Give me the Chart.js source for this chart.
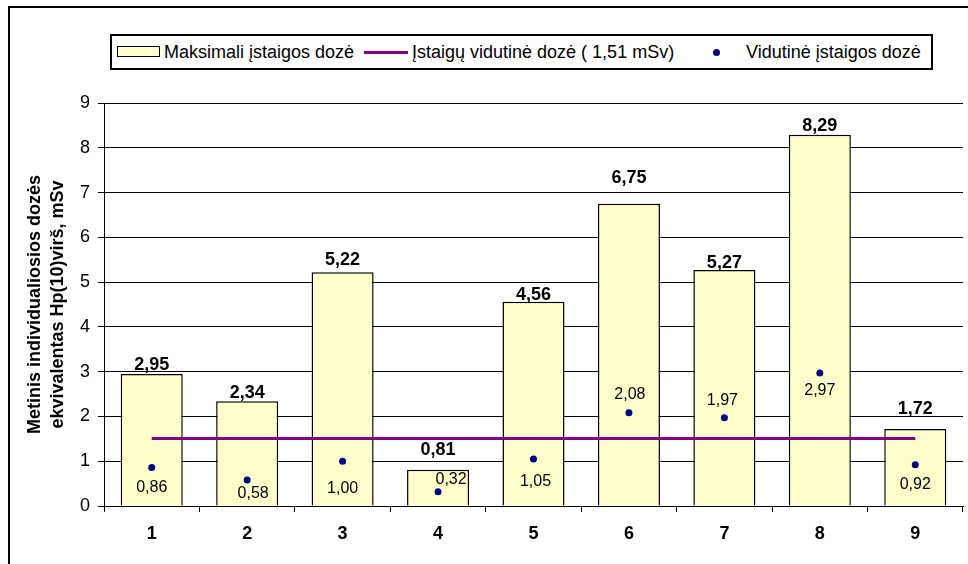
<!DOCTYPE html>
<html>
<head>
<meta charset="utf-8">
<script src="https://cdn.jsdelivr.net/npm/chart.js@4/dist/chart.umd.min.js"></script>
<style>
html,body{margin:0;padding:0;background:#fff;overflow:hidden;}
#wrap{position:relative;width:968px;height:564px;overflow:hidden;font-family:'Liberation Sans',Arial,sans-serif;}
#frame{position:absolute;left:8px;top:6px;width:2000px;height:2000px;border-left:2px solid #000;border-top:2px solid #000;}
canvas{position:absolute;left:0;top:0;}
#legendBox{position:absolute;left:110px;top:34px;width:823px;height:36px;box-sizing:border-box;border:2px solid #000;background:#fff;}
.lg{position:absolute;}
.lt{position:absolute;top:42px;line-height:20px;font-size:18px;color:#000;white-space:nowrap;}
</style>
</head>
<body>
<div id="wrap">
  <div id="frame"></div>
  <canvas id="c" width="968" height="564"></canvas>
  <div id="legendBox"></div>
  <div class="lg" style="left:117px;top:46px;width:43px;height:11px;box-sizing:border-box;border:1.5px solid #000;background:#FFFFCC;"></div>
  <div class="lt" id="lt1" style="left:164px;"></div>
  <div class="lg" style="left:364px;top:50.5px;width:44px;height:3px;background:#800080;"></div>
  <div class="lt" id="lt2" style="left:412px;"></div>
  <div class="lg" style="left:712.5px;top:48.5px;width:7px;height:7px;border-radius:50%;background:#000080;"></div>
  <div class="lt" id="lt3" style="left:746px;"></div>
</div>
<script>
// ---- data ----
const categories = ['1','2','3','4','5','6','7','8','9'];
const maxDose = [2.95, 2.34, 5.22, 0.81, 4.56, 6.75, 5.27, 8.29, 1.72];
const avgDose = [0.86, 0.58, 1.00, 0.32, 1.05, 2.08, 1.97, 2.97, 0.92];
const overallAvg = [1.51, 1.51, 1.51, 1.51, 1.51, 1.51, 1.51, 1.51, 1.51];
const yTicks = [0, 1, 2, 3, 4, 5, 6, 7, 8, 9];
const seriesNames = ['Maksimali įstaigos dozė', 'Įstaigų vidutinė dozė ( 1,51 mSv)', 'Vidutinė įstaigos dozė'];
const yTitle = ['Metinis individualiosios dozės', 'ekvivalentas Hp(10)virš, mSv'];

// ---- label placement (style) ----
const barLabelGap = [4, 3, 7, 15, 2, 21, 2, 4, 15];
const avgLabelShift = [[0,20],[6,14],[0,27],[13,-12],[2,23],[1,-18],[-2,-17],[0,18],[0,20]];

document.getElementById('lt1').textContent = seriesNames[0];
document.getElementById('lt2').textContent = seriesNames[1];
document.getElementById('lt3').textContent = seriesNames[2];

const FAM = "'Liberation Sans', Arial, sans-serif";
Chart.defaults.font.family = FAM;
Chart.defaults.color = '#000';

const fmt = v => v.toFixed(2).replace('.', ',');

const labelPlugin = {
  id: 'valueLabels',
  afterDatasetsDraw(chart) {
    const ctx = chart.ctx;
    ctx.save();
    ctx.fillStyle = '#000';
    const bars = chart.getDatasetMeta(0).data;
    ctx.font = 'bold 18px ' + FAM;
    ctx.textAlign = 'center';
    ctx.textBaseline = 'alphabetic';
    bars.forEach((el, i) => {
      ctx.fillText(fmt(maxDose[i]), el.x, el.y - barLabelGap[i]);
    });
    const pts = chart.getDatasetMeta(2).data;
    ctx.font = '16px ' + FAM;
    ctx.textBaseline = 'middle';
    pts.forEach((el, i) => {
      ctx.fillText(fmt(avgDose[i]), el.x + avgLabelShift[i][0], el.y + avgLabelShift[i][1]);
    });
    ctx.restore();
  }
};

new Chart(document.getElementById('c'), {
  data: {
    labels: categories,
    datasets: [
      {
        type: 'bar', label: seriesNames[0], data: maxDose, order: 3,
        backgroundColor: '#FFFFCC', borderColor: '#000', borderWidth: 1.5,
        categoryPercentage: 1, barPercentage: 0.65
      },
      {
        type: 'line', label: seriesNames[1], data: overallAvg, order: 2,
        borderColor: '#800080', borderWidth: 3, pointRadius: 0, fill: false, tension: 0
      },
      {
        type: 'line', label: seriesNames[2], data: avgDose, order: 1, showLine: false,
        pointRadius: 3.5, pointBackgroundColor: '#000080', pointBorderColor: '#000080', pointBorderWidth: 0
      }
    ]
  },
  options: {
    responsive: false,
    animation: false,
    devicePixelRatio: 1,
    layout: { padding: { top: 103, right: 5, left: 0, bottom: 0 } },
    plugins: { legend: { display: false }, tooltip: { enabled: false } },
    scales: {
      x: {
        offset: true,
        ticks: { color: '#000', font: { size: 18, weight: 'bold' }, padding: 11 },
        grid: { display: true, drawOnChartArea: false, drawTicks: true, tickLength: 6, offset: true, color: '#000', tickColor: '#000', lineWidth: 1 },
        border: { display: true, color: '#000', width: 1 },
        afterFit(s) { s.height = 58; }
      },
      y: {
        min: yTicks[0], max: yTicks[yTicks.length - 1],
        afterBuildTicks(s) { s.ticks = yTicks.map(v => ({ value: v })); },
        ticks: { color: '#000', font: { size: 18 }, padding: 8 },
        grid: { color: '#000', lineWidth: 1, tickLength: 6, tickColor: '#000' },
        border: { display: true, color: '#000', width: 1 },
        title: { display: true, text: yTitle, color: '#000', font: { size: 18, weight: 'bold', lineHeight: 1.3 }, padding: { top: 23, bottom: 0 } },
        afterFit(s) { s.width = 104; }
      }
    }
  },
  plugins: [labelPlugin]
});
</script>
</body>
</html>
